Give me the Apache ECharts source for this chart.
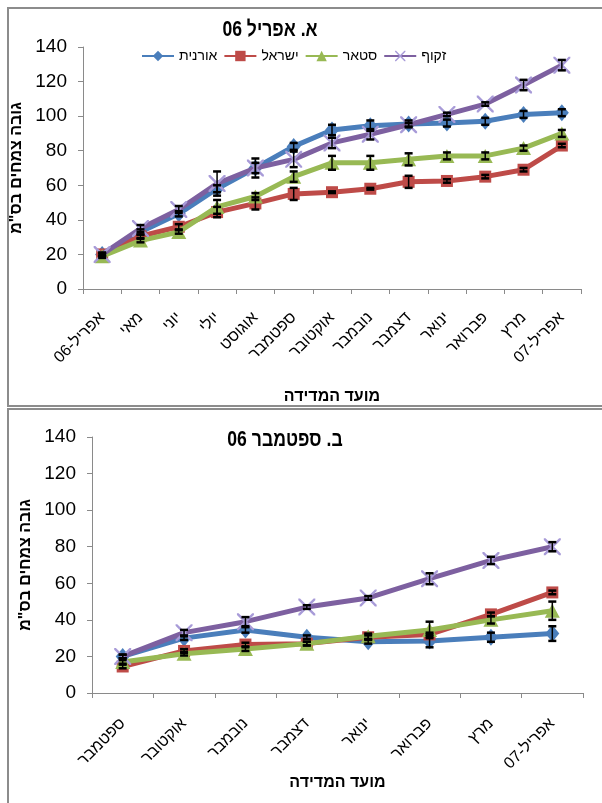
<!DOCTYPE html>
<html>
<head>
<meta charset="utf-8">
<script src="https://cdn.jsdelivr.net/npm/echarts@6/dist/echarts.min.js"></script>
<style>
html,body{margin:0;padding:0;background:#fff;}
#chart{width:602px;height:803px;}
</style>
</head>
<body>
<div id="chart"></div>
<script>
// Plant height (cm) by measurement date, two sowing dates
const catsA = ['אפריל-06','מאי','יוני','יולי','אוגוסט','ספטמבר','אוקטובר','נובמבר','דצמבר','ינואר','פברואר','מרץ','אפריל-07'];
const oranitA = [20, 33, 43.5, 58, 70, 82.5, 92, 94.5, 95.5, 96, 97, 101, 102];
const israelA = [20, 30.5, 36, 44.5, 49.5, 55, 56, 58, 62, 62.5, 65, 69, 83];
const starA   = [19, 28, 33, 47.5, 53.5, 65, 73, 73, 75, 77, 77, 81.5, 90];
const zakufA  = [20, 35, 46, 61, 70, 75, 84.5, 89.5, 95, 101, 107, 118, 129.5];
const oranitErrA = [0, 1.5, 1.5, 2, 3, 2, 3, 3, 2, 2, 2, 2, 2];
const israelErrA = [1, 1, 1.5, 3, 3.5, 3.5, 0.5, 0.5, 3.5, 1, 1, 1, 1];
const starErrA   = [1, 1, 1, 4, 2, 3, 4, 4, 3.5, 2, 2, 1.5, 2];
const zakufErrA  = [1, 2, 2, 7, 5.5, 4.5, 3, 3, 1, 1, 1, 3, 3];

const catsB = ['ספטמבר','אוקטובר','נובמבר','דצמבר','ינואר','פברואר','מרץ','אפריל-07'];
const oranitB = [20, 30, 34.5, 30.5, 28, 28.5, 30.5, 32.5];
const israelB = [14.5, 23, 26.5, 27, 30.5, 32, 43, 55];
const starB   = [17, 21.5, 24, 27, 31, 34.5, 40, 45];
const zakufB  = [20, 33, 39, 47, 52, 62.5, 72.5, 80];
const oranitErrB = [1, 1, 1.5, 1, 1, 3.5, 2.5, 4];
const israelErrB = [1, 1, 1, 1, 1, 1, 1, 1];
const starErrB   = [1, 1, 1, 1, 1.5, 4.5, 2, 5];
const zakufErrB  = [1, 1.5, 2.5, 1, 1, 3, 2, 2.5];

const yTicks = {min: 0, max: 140, interval: 20};
const titleA = 'א. אפריל 06';
const titleB = 'ב. ספטמבר 06';
const yName = 'גובה צמחים בס"מ';
const xName = 'מועד המדידה';
const names = ['אורנית', 'ישראל', 'סטאר', 'זקוף'];

const FONT = '"Liberation Sans", Arial, "DejaVu Sans", sans-serif';
const colors = ['#4A7EBB', '#BE4B48', '#98B954', '#7D60A0'];
const xMark = 'path://M0,0L2,0L10,8L18,0L20,0L20,2L12,10L20,18L20,20L18,20L10,12L2,20L0,20L0,18L8,10L0,2Z';
const symbols = [
  {symbol: 'diamond', size: [14, 17], color: colors[0]},
  {symbol: 'rect', size: 12, color: colors[1]},
  {symbol: 'triangle', size: [15, 14], color: colors[2]},
  {symbol: xMark, size: 17, color: '#A89BD8'}
];

function lineSeries(idx, data, axis) {
  const s = symbols[idx];
  return {
    name: names[idx], type: 'line', xAxisIndex: axis, yAxisIndex: axis,
    data: data, symbol: s.symbol, symbolSize: s.size, showAllSymbol: true,
    lineStyle: {color: colors[idx], width: 5},
    itemStyle: {color: s.color, borderWidth: 0},
    emphasis: {disabled: true}, z: 2 + idx
  };
}

function errorSeries(axis, sets) {
  const data = [];
  sets.forEach(([vals, errs]) => {
    vals.forEach((v, i) => { if (errs[i] > 0) data.push([i, v - errs[i], v + errs[i]]); });
  });
  return {
    type: 'custom', xAxisIndex: axis, yAxisIndex: axis, z: 10, silent: true,
    encode: {x: 0, y: [1, 2]},
    data: data,
    renderItem: function (params, api) {
      const lo = api.coord([api.value(0), api.value(1)]);
      const hi = api.coord([api.value(0), api.value(2)]);
      const w = 4;
      return {
        type: 'group',
        children: [
          {type: 'line', shape: {x1: lo[0], y1: lo[1], x2: hi[0], y2: hi[1]}, style: {stroke: '#000', lineWidth: 1.5}},
          {type: 'line', shape: {x1: lo[0] - w, y1: lo[1], x2: lo[0] + w, y2: lo[1]}, style: {stroke: '#000', lineWidth: 2.5}},
          {type: 'line', shape: {x1: hi[0] - w, y1: hi[1], x2: hi[0] + w, y2: hi[1]}, style: {stroke: '#000', lineWidth: 2.5}}
        ]
      };
    }
  };
}

function xAxis(cats, grid, gap, margin) {
  return {
    type: 'category', gridIndex: grid, data: cats, boundaryGap: true,
    name: xName, nameLocation: 'middle', nameGap: gap,
    nameTextStyle: {fontFamily: FONT, fontSize: 16, fontWeight: 'bold', color: '#000'},
    axisLine: {lineStyle: {color: '#8A8A8A', width: 1}},
    axisTick: {show: true, inside: false, length: 5, alignWithLabel: false, lineStyle: {color: '#8A8A8A'}},
    axisLabel: {rotate: 45, interval: 0, margin: margin, fontFamily: FONT, fontSize: 16, color: '#000'},
    splitLine: {show: false}
  };
}

function yAxis(grid) {
  return {
    type: 'value', gridIndex: grid, min: yTicks.min, max: yTicks.max, interval: yTicks.interval,
    name: yName, nameLocation: 'middle', nameGap: 55, nameRotate: 90,
    nameTextStyle: {fontFamily: FONT, fontSize: 16, fontWeight: 'bold', color: '#000'},
    axisLine: {show: true, lineStyle: {color: '#8A8A8A', width: 1}},
    axisTick: {show: true, inside: false, length: 5, lineStyle: {color: '#8A8A8A'}},
    axisLabel: {margin: 16, fontFamily: FONT, fontSize: 19, color: '#000'},
    splitLine: {show: false}
  };
}

const chart = echarts.init(document.getElementById('chart'), null, {renderer: 'canvas'});
chart.setOption({
  animation: false,
  backgroundColor: '#fff',
  grid: [
    {left: 83, right: 21, top: 47, height: 242},
    {left: 92, right: 19, top: 437, height: 256}
  ],
  legend: {
    data: names, left: 136, top: 44, itemWidth: 32, itemHeight: 13, itemGap: 6,
    textStyle: {fontFamily: FONT, fontSize: 14, color: '#000'},
    selectedMode: false
  },
  xAxis: [xAxis(catsA, 0, 100, 26), xAxis(catsB, 1, 75, 28)],
  yAxis: [yAxis(0), yAxis(1)],
  graphic: [
    {type: 'rect', shape: {x: 8, y: 8, width: 620, height: 398}, style: {fill: 'none', stroke: '#8C8C8C', lineWidth: 2}, silent: true},
    {type: 'rect', shape: {x: 8, y: 409, width: 620, height: 420}, style: {fill: 'none', stroke: '#8C8C8C', lineWidth: 2}, silent: true},
    {type: 'text', x: 270, y: 30, scaleX: 0.8, style: {text: titleA, font: 'bold 22px ' + FONT, fill: '#000', textAlign: 'center', textVerticalAlign: 'middle'}, silent: true},
    {type: 'text', x: 285, y: 440, scaleX: 0.8, style: {text: titleB, font: 'bold 22px ' + FONT, fill: '#000', textAlign: 'center', textVerticalAlign: 'middle'}, silent: true}
  ],
  series: [
    lineSeries(0, oranitA, 0), lineSeries(1, israelA, 0), lineSeries(2, starA, 0), lineSeries(3, zakufA, 0),
    errorSeries(0, [[oranitA, oranitErrA], [israelA, israelErrA], [starA, starErrA], [zakufA, zakufErrA]]),
    lineSeries(0, oranitB, 1), lineSeries(1, israelB, 1), lineSeries(2, starB, 1), lineSeries(3, zakufB, 1),
    errorSeries(1, [[oranitB, oranitErrB], [israelB, israelErrB], [starB, starErrB], [zakufB, zakufErrB]])
  ]
});
</script>
</body>
</html>
